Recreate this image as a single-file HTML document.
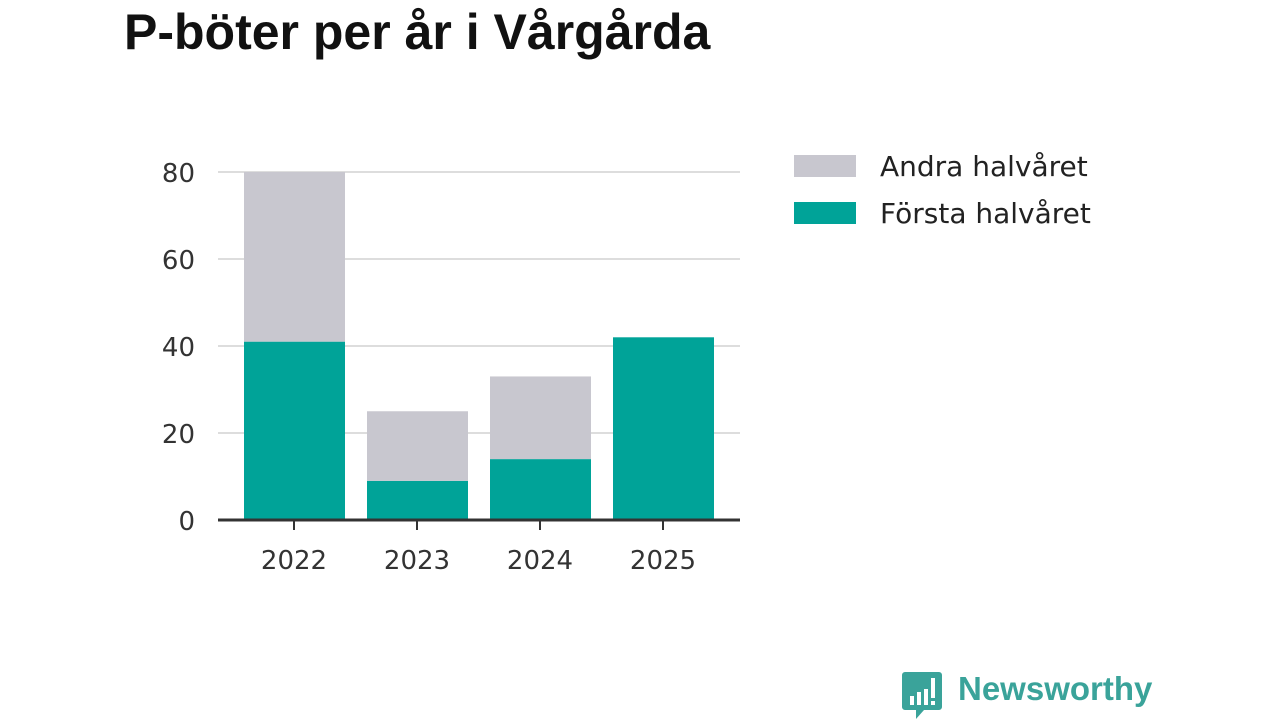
<!DOCTYPE html>
<html><head><meta charset="utf-8"><style>
body{margin:0;width:1280px;height:720px;background:#fff;font-family:"Liberation Sans","DejaVu Sans",sans-serif;overflow:hidden;position:relative}
h1{position:absolute;left:124px;top:2px;margin:0;font-size:50px;line-height:60px;font-weight:bold;color:#111;white-space:nowrap}
svg text{font-family:"DejaVu Sans",sans-serif}
</style></head><body>
<h1>P-böter per år i Vårgårda</h1>
<svg id="c" width="1280" height="720" style="position:absolute;left:0;top:0"></svg>
<script>
const categories=["2022","2023","2024","2025"];
const firstHalf=[41,9,14,42];
const secondHalf=[39,16,19,0];
const yTicks=[0,20,40,60,80];
const ns="http://www.w3.org/2000/svg";
const svg=document.getElementById('c');
function y(v){return 520-v*4.35;}
function x(i){return 294+i*123;}
function mk(t,a,txt){const e=document.createElementNS(ns,t);for(const k in a)e.setAttribute(k,a[k]);if(txt!=null)e.textContent=txt;svg.appendChild(e);return e;}
yTicks.forEach(t=>{
 if(t>0){const g=mk('line',{x1:218,x2:740,y1:y(t),y2:y(t),stroke:'#dddddd','stroke-width':2});
 
 }
 const l=mk('text',{x:195,y:y(t)+10,'text-anchor':'end','font-size':26,fill:'#333'},t);
 
 
});
categories.forEach((c,i)=>{
 const b1=mk('rect',{x:x(i)-50,y:y(firstHalf[i]),width:101,height:y(0)-y(firstHalf[i]),fill:'#00a398'});
 
 
 if(secondHalf[i]>0){const b2=mk('rect',{x:x(i)-50,y:y(firstHalf[i]+secondHalf[i]),width:101,height:y(firstHalf[i])-y(firstHalf[i]+secondHalf[i]),fill:'#c8c7cf'});
 
 }
 const tk=mk('line',{x1:x(i),x2:x(i),y1:520,y2:530,stroke:'#333','stroke-width':2});
 
 
 const l=mk('text',{x:x(i),y:569,'text-anchor':'middle','font-size':26,fill:'#333'},c);
 
 
});
const ax=mk('line',{x1:218,x2:740,y1:520,y2:520,stroke:'#333','stroke-width':3});


[["Andra halvåret","#c8c7cf",166],["Första halvåret","#00a398",213]].forEach(([n,c,yy],k)=>{
 const r=mk('rect',{x:794,y:yy-11,width:62,height:22,fill:c});
 
 
 const t=mk('text',{x:880,y:yy+10,'font-size':28,fill:'#222'},n);
 
 
});
</script>
<div style="position:absolute;left:902px;top:672px">
<svg width="42" height="48" style="position:absolute;left:0;top:0"><path d="M3 0h34a3 3 0 0 1 3 3v32a3 3 0 0 1-3 3H22l-8 9v-9H3a3 3 0 0 1-3-3V3a3 3 0 0 1 3-3z" fill="#3aa39a"/><rect x="8" y="24" width="4" height="9" fill="#fff"/><rect x="15" y="20" width="4" height="13" fill="#fff"/><rect x="22" y="17" width="4" height="16" fill="#fff"/><rect x="29" y="6" width="4" height="20" fill="#fff"/><rect x="29" y="29" width="4" height="4" fill="#fff"/></svg>
<span style="position:absolute;left:56px;top:-2px;font-size:33px;font-weight:bold;color:#3aa39a;white-space:nowrap">Newsworthy</span>
</div>
</body></html>
